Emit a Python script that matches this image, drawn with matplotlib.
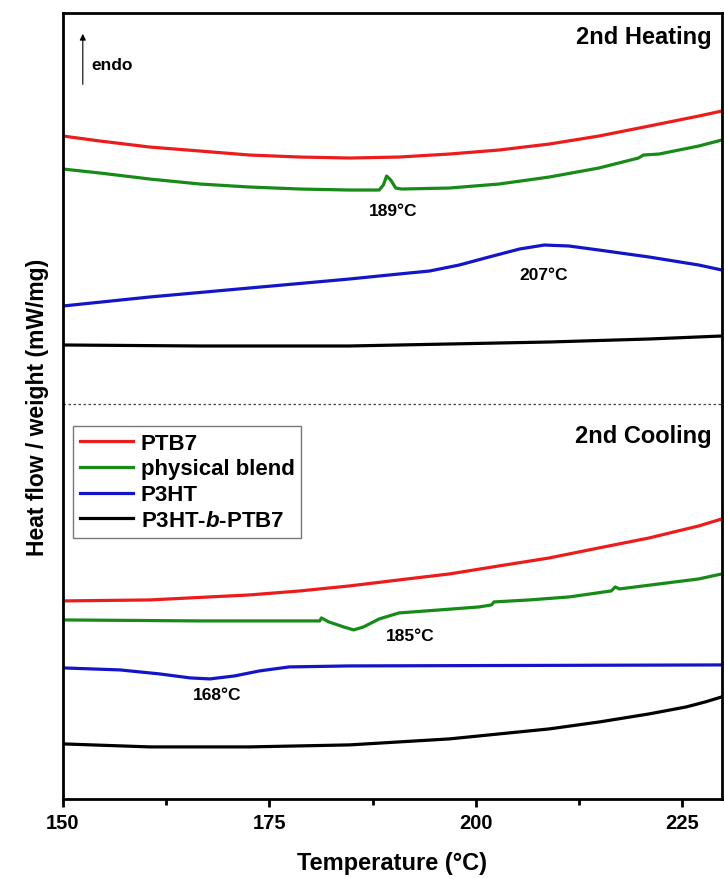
import numpy as np
import matplotlib.pyplot as plt

plt.rcParams['font.family'] = ['Liberation Sans', 'DejaVu Sans']
plt.rcParams['font.weight'] = 'bold'
plt.rcParams['mathtext.fontset'] = 'custom'
plt.rcParams['mathtext.bfit'] = 'Liberation Sans:bold:italic'

# values (arbitrary heat-flow units, curves stacked by offset)
# --- 2nd heating ---
ptb7_h_T = [150, 154.5, 160.5, 166.6, 172.6, 178.7, 184.7, 190.7, 196.8, 202.8, 208.9, 214.9, 221.0, 227.0, 229.8]
ptb7_h_y = [663, 658, 652, 648, 644, 642, 641, 642, 645, 649, 655, 663, 673, 683, 688]

blend_h_T = [150, 154.5, 160.5, 166.6, 172.6, 178.7, 184.7, 188.3, 188.8, 189.2, 189.7, 190.3, 191.0,
             196.8, 202.8, 208.9, 214.9, 219.7, 220.3, 222.2, 227.0, 229.8]
blend_h_y = [630, 626, 620, 615, 612, 610, 609, 609, 614, 623, 619, 611, 610,
             611, 615, 622, 631, 641, 644, 645, 653, 659]

p3ht_h_T = [150, 160.5, 172.6, 184.7, 190.7, 194.4, 198.0, 201.6, 205.3, 208.3, 211.3, 214.9, 221.0, 227.0, 229.8]
p3ht_h_y = [493, 502, 511, 520, 525, 528, 534, 542, 550, 554, 553, 549, 542, 534, 529]

block_h_T = [150, 166.6, 184.7, 196.8, 208.9, 221.0, 229.8]
block_h_y = [454, 453, 453, 455, 457, 460, 463]

# --- 2nd cooling ---
ptb7_c_T = [150, 160.5, 172.6, 178.7, 184.7, 190.7, 196.8, 202.8, 208.9, 214.9, 221.0, 227.0, 229.8]
ptb7_c_y = [198, 199, 204, 208, 213, 219, 225, 233, 241, 251, 261, 273, 280]

blend_c_T = [150, 166.6, 181.1, 181.3, 182.2, 184.0, 185.2, 186.4, 188.3, 190.7, 195.6, 200.4, 201.9,
             202.2, 206.5, 211.3, 216.4, 216.9, 217.4, 222.2, 227.0, 229.8]
blend_c_y = [179, 178, 178, 181, 177, 172, 169, 172, 180, 186, 189, 192, 194,
             197, 199, 202, 208, 212, 210, 215, 220, 225]

p3ht_c_T = [150, 156.9, 161.7, 165.4, 167.8, 170.8, 173.8, 177.4, 184.7, 229.8]
p3ht_c_y = [131, 129, 125, 121, 120, 123, 128, 132, 133, 134]

block_c_T = [150, 160.5, 172.6, 184.7, 196.8, 208.9, 215.0, 221.0, 225.5, 227.8, 229.8]
block_c_y = [55, 52, 52, 54, 60, 70, 77, 85, 92, 97, 102]

labels = ['PTB7', 'physical blend', 'P3HT', r'P3HT-$\mathbfit{b}$-PTB7']
colors = ['#ec1c1c', '#178a17', '#1414c8', '#000000']

fig = plt.figure(figsize=(7.24, 8.79), dpi=100)
ax = fig.add_axes([0.087, 0.09, 0.91, 0.894])

heat = [(ptb7_h_T, ptb7_h_y), (blend_h_T, blend_h_y), (p3ht_h_T, p3ht_h_y), (block_h_T, block_h_y)]
cool = [(ptb7_c_T, ptb7_c_y), (blend_c_T, blend_c_y), (p3ht_c_T, p3ht_c_y), (block_c_T, block_c_y)]
for (T, y), c in zip(heat, colors):
    ax.plot(T, y, color=c, lw=2.3, solid_joinstyle='round')
for (T, y), c, lab in zip(cool, colors, labels):
    ax.plot(T, y, color=c, lw=2.3, solid_joinstyle='round', label=lab)

ax.axhline(395, color='#444444', lw=0.9, ls=(0, (2, 2)))

ax.set_xlim(150, 229.8)
ax.set_ylim(0, 786)
ax.set_xticks([150, 175, 200, 225])
ax.set_xticks([162.5, 187.5, 212.5], minor=True)
ax.set_yticks([])
ax.tick_params(axis='x', which='major', direction='out', length=6, width=2, pad=4, labelsize=14.5)
ax.tick_params(axis='x', which='minor', direction='out', length=4, width=2)
for s in ax.spines.values():
    s.set_linewidth(2)

ax.set_xlabel('Temperature (°C)', fontsize=17, fontweight='bold', labelpad=14)
ax.set_ylabel('Heat flow / weight (mW/mg)', fontsize=16.5, fontweight='bold', labelpad=10)

ax.text(0.985, 0.97, '2nd Heating', transform=ax.transAxes, ha='right', va='center', fontsize=17, fontweight='bold')
ax.text(0.985, 0.462, '2nd Cooling', transform=ax.transAxes, ha='right', va='center', fontsize=17, fontweight='bold')
ax.annotate('', xy=(152.4, 768), xytext=(152.4, 712),
            arrowprops=dict(arrowstyle='-|>', color='black', lw=0.8, mutation_scale=9))
ax.text(153.4, 735, 'endo', fontsize=12.5, fontweight='bold', va='center')

ax.text(190.0, 589, '189°C', fontsize=12.5, fontweight='bold', ha='center', va='center')
ax.text(208.2, 525, '207°C', fontsize=12.5, fontweight='bold', ha='center', va='center')
ax.text(192.1, 163, '185°C', fontsize=12.5, fontweight='bold', ha='center', va='center')
ax.text(168.7, 104, '168°C', fontsize=12.5, fontweight='bold', ha='center', va='center')

leg = ax.legend(loc='upper left', bbox_to_anchor=(0.015, 0.4746), fontsize=16, frameon=True,
                fancybox=False, edgecolor='#555555', handlelength=2.4, handletextpad=0.35,
                borderpad=0.3, labelspacing=0.22, borderaxespad=0)
leg.get_frame().set_linewidth(1)
for t in leg.get_texts():
    t.set_fontweight('bold')

fig.savefig('out.png', dpi=100)
